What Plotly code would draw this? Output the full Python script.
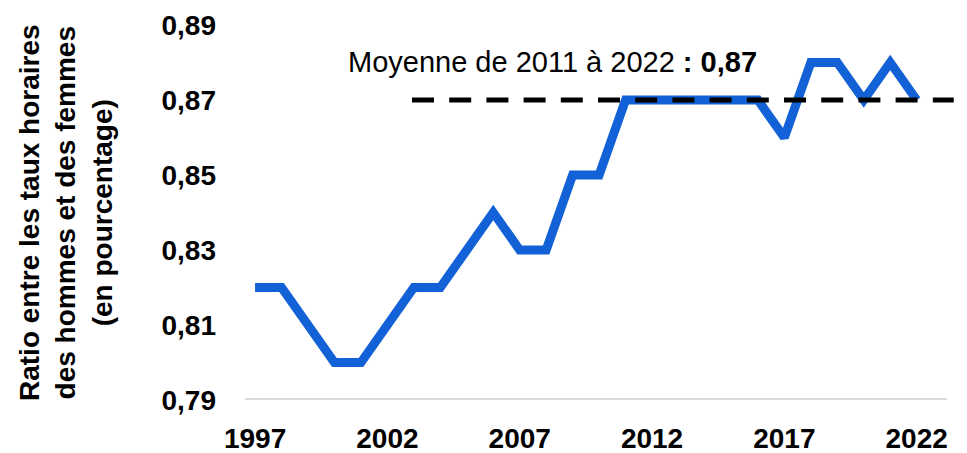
import plotly.graph_objects as go

years = list(range(1997, 2023))
ratio = [0.82, 0.82, 0.81, 0.80, 0.80, 0.81, 0.82, 0.82, 0.83, 0.84, 0.83, 0.83, 0.85,
         0.85, 0.87, 0.87, 0.87, 0.87, 0.87, 0.87, 0.86, 0.88, 0.88, 0.87, 0.88, 0.87]
avg_x = [2002.93, 2023.4]
avg_y = [0.87, 0.87]
y_ticks = [0.79, 0.81, 0.83, 0.85, 0.87, 0.89]
y_labels = ["0,79", "0,81", "0,83", "0,85", "0,87", "0,89"]
x_ticks = [1997, 2002, 2007, 2012, 2017, 2022]
x_labels = ["1997", "2002", "2007", "2012", "2017", "2022"]

FONT = "Liberation Sans, Arial, sans-serif"
BLUE = "#1261D7"

fig = go.Figure()
fig.add_trace(go.Scatter(x=years, y=ratio, mode="lines",
                         line=dict(color=BLUE, width=9), hoverinfo="skip"))
fig.add_trace(go.Scatter(x=avg_x, y=avg_y, mode="lines",
                         line=dict(color="black", width=5, dash="22px,15.2px"), hoverinfo="skip"))

fig.add_shape(type="line", xref="x", yref="y", x0=1996.62, x1=2023.13, y0=0.79, y1=0.79,
              line=dict(color="#D9D9D9", width=4), layer="below")

fig.add_annotation(x=2000.45, y=0.8802, xref="x", yref="y", xanchor="left", yanchor="middle",
                   showarrow=False,
                   text="Moyenne de 2011 à 2022 <b>: 0,87</b>",
                   font=dict(family=FONT, size=29, color="black"))

fig.add_annotation(x=-0.25, y=0.5, xref="paper", yref="paper", xanchor="center", yanchor="middle",
                   showarrow=False, textangle=-90,
                   text="<b>Ratio entre les taux horaires<br>des hommes et des femmes<br>(en pourcentage)</b>",
                   font=dict(family=FONT, size=28, color="black"))

fig.update_layout(
    width=967, height=453,
    margin=dict(l=237, r=12, t=17, b=61),
    plot_bgcolor="white", paper_bgcolor="white",
    showlegend=False,
    font=dict(family=FONT, color="black"),
)
fig.update_xaxes(range=[1996.62, 2023.75], tickvals=x_ticks, ticktext=x_labels,
                 showgrid=False, zeroline=False, showline=False, ticks="", automargin=False,
                 tickfont=dict(family=FONT, size=28, color="black", weight="bold"),
                 ticklabelstandoff=19)
fig.update_yaxes(range=[0.79, 0.89], tickvals=y_ticks, ticktext=y_labels,
                 showgrid=False, zeroline=False, showline=False, ticks="", automargin=False,
                 tickfont=dict(family=FONT, size=28, color="black", weight="bold"),
                 ticklabelstandoff=28)

fig.write_html("out.html")
